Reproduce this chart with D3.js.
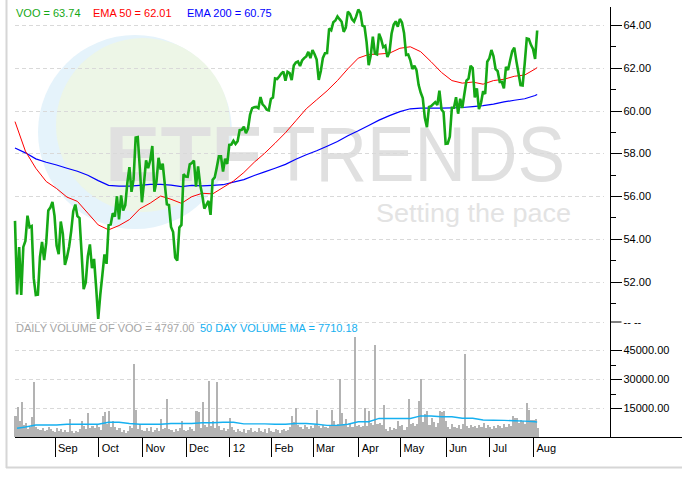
<!DOCTYPE html>
<html><head><meta charset="utf-8">
<script src="https://cdn.jsdelivr.net/npm/d3@7"></script>
<style>
html,body{margin:0;padding:0;background:#fff;}
svg{display:block;font-family:"Liberation Sans",Arial,sans-serif;}
</style></head><body>
<svg id="c" width="682" height="481"></svg>
<script>
// ---- data (trading-day index 0 = 5 Aug 2011 ... 251 = 3 Aug 2012) ----
const monthLabels = ["Sep","Oct","Nov","Dec","12","Feb","Mar","Apr","May","Jun","Jul","Aug"];
const monthStartIndex = [19,40,61,82,103,123,143,165,185,207,228,249];

const closePrices = [54.84,51.40,53.61,51.38,53.62,53.90,55.08,54.54,54.59,52.16,
51.37,51.39,53.15,53.85,53.01,53.81,55.33,55.46,55.73,55.07,
53.68,53.28,54.81,54.23,52.78,53.14,53.63,54.35,55.29,55.60,
55.06,54.97,53.35,51.65,51.96,53.18,53.74,52.63,53.06,51.73,
50.26,51.39,52.31,53.27,52.83,54.64,54.67,55.20,55.04,55.99,
54.91,56.03,55.32,55.57,56.62,57.35,56.20,56.79,58.74,58.76,
57.31,55.71,56.60,57.67,57.30,57.67,58.34,56.20,56.68,57.79,
57.24,57.51,56.56,55.61,55.58,54.55,54.32,53.12,52.98,54.53,
54.65,57.02,56.91,56.90,57.48,57.54,57.66,56.44,57.39,56.54,
56.05,55.41,55.59,55.77,55.12,56.76,56.87,57.34,57.86,57.86,
57.14,57.75,57.50,58.39,58.41,58.58,58.43,58.56,59.08,59.10,
59.24,58.94,59.15,59.81,60.11,60.15,60.17,60.11,60.63,60.29,
60.19,60.04,60.01,60.54,60.61,61.50,61.47,61.59,61.73,61.82,
61.39,61.81,61.75,61.42,62.10,62.24,62.29,62.08,62.34,62.45,
62.53,62.74,62.45,62.83,62.63,62.38,61.43,61.85,62.46,62.68,
62.69,63.83,63.75,64.13,64.21,64.40,64.27,64.15,63.68,63.88,
64.62,64.52,64.27,64.16,64.40,64.72,64.58,63.97,63.93,63.20,
62.12,62.58,63.45,62.66,62.62,63.59,63.34,62.96,63.03,62.50,
62.73,63.59,64.01,64.17,63.92,64.28,64.12,63.63,62.60,62.62,
62.36,61.94,62.09,61.88,61.20,60.84,60.58,59.66,59.22,60.17,
60.20,60.30,60.39,60.26,60.93,60.05,59.92,58.44,58.45,58.78,
60.13,60.13,60.62,59.85,60.55,60.12,60.77,61.40,61.49,62.09,
61.99,60.61,61.04,60.07,60.36,60.90,60.77,62.28,62.44,62.83,
62.53,61.94,61.84,61.34,61.34,61.03,62.04,61.89,62.35,62.77,
62.94,62.31,61.75,61.19,61.17,62.19,63.37,63.34,63.07,62.88,
62.41,63.74];

const emaIndex = [0,5,10,15,20,25,30,35,40,45,50,55,60,65,70,75,80,85,90,95,100,105,110,115,120,125,130,135,140,145,150,155,160,165,170,175,180,185,190,195,200,205,210,215,220,225,230,235,240,245,250,251];
const ema50 = [59.48,58.10,57.30,56.68,56.35,55.95,55.75,55.20,54.65,54.42,54.62,54.90,55.40,55.67,56.00,55.85,55.66,55.97,56.13,56.10,56.40,56.70,57.10,57.58,58.00,58.47,58.96,59.52,60.08,60.50,60.92,61.40,61.95,62.45,62.62,62.64,62.68,62.91,62.98,62.75,62.28,61.78,61.40,61.28,61.33,61.23,61.40,61.46,61.60,61.66,61.94,62.01];
const ema200 = [58.25,58.02,57.74,57.58,57.45,57.30,57.16,56.97,56.72,56.50,56.46,56.46,56.50,56.55,56.55,56.51,56.44,56.50,56.48,56.50,56.53,56.65,56.77,56.96,57.13,57.30,57.48,57.72,57.93,58.12,58.33,58.55,58.82,59.05,59.30,59.55,59.76,59.95,60.08,60.11,60.11,60.11,60.12,60.14,60.18,60.23,60.30,60.40,60.48,60.55,60.70,60.75];

const volumes = [10900,15400,8400,18300,6200,7300,4300,5200,10500,28300,
5200,4300,3800,4600,2900,3500,5100,4200,3000,2600,
4700,3300,4000,2800,3600,2400,9300,3100,2200,3000,
2600,4300,8400,5600,3900,12200,4500,5900,4700,6100,
5200,3800,11000,12800,6600,13300,5400,8400,5000,3400,
4600,2500,3800,2200,3100,5600,4800,37800,14000,4200,
6100,3500,2900,4400,3200,5100,2700,3600,4800,3000,
9300,3900,4600,19600,4300,3400,2700,4100,3200,4800,
8400,3700,2900,3500,5000,4200,3100,13300,12800,4700,
18300,6400,5200,29100,5800,8400,4600,28600,5500,3600,
4900,3200,4300,9800,5400,3800,2400,4300,3100,2700,
4000,2200,3500,4600,2800,3300,2500,4400,3100,2600,
3900,2200,4500,3000,2700,4100,3400,2300,3700,4300,
2900,3800,5200,11000,7900,14800,6000,5400,4300,6200,
5100,4000,5600,4700,6400,13800,5800,4900,6100,5300,
4400,6000,14200,8400,5500,6800,30000,12500,6300,9300,
5400,6600,5200,51600,5800,6300,5100,5900,14800,5600,
13300,7000,6100,47600,6800,7200,6400,16500,4200,3300,
5000,3700,4600,3900,8400,5700,6200,3800,5100,19500,
6800,7400,5900,6600,18800,30000,8000,11800,13300,6400,
9800,8000,5000,7100,13300,12900,13300,8300,5200,4100,
6500,5400,4700,6000,4300,6700,42900,5500,4800,6300,
5000,5800,4400,6100,5300,7200,4600,6000,5100,4200,
5600,4900,6200,5700,4500,6600,5300,6800,5900,10900,
9700,10000,7400,9000,8200,6900,17800,13800,9000,8600,
9400,4797];

const volMAIndex = [1,5,10,15,20,25,30,35,40,45,50,55,60,65,70,75,80,85,90,95,100,105,110,115,120,125,130,135,140,145,150,155,160,165,170,175,180,185,190,195,200,205,210,215,220,225,230,235,240,245,250,251];
const volMA = [4500,5200,6200,6200,6200,6600,6600,6600,6600,7600,7600,7000,6600,6600,6600,7000,7000,7000,7400,7400,7600,7600,6800,6800,6800,6600,6600,7000,7000,6600,6000,6000,6600,7900,7900,9600,9600,9600,9600,10900,10900,10500,10500,9700,9700,8800,8700,8600,8400,8200,7900,7710.18];

const priceTicks = [64,62,60,58,56,54,52];
const priceMinorTicks = [63,61,59,57,55,53,51];
const volumeTicks = [45000,30000,15000];
const volumeMinorTicks = [37500,22500];

// ---- drawing ----
const svg = d3.select("#c");
const x = d3.scaleLinear().domain([0,286]).range([15,610]);
const yP = d3.scaleLinear().domain([50.11,64.84]).range([322,7]);
const yV = d3.scaleLinear().domain([0,60000]).range([437,321]);
const plotL = 15, plotR = 610, gridR = 604;

const GREEN="#15a815", RED="#ff0000", BLUE="#0000ff", VOLC="#b3b3b3", MAC="#16b0f0";

// frame
svg.append("line").attr("x1",6.5).attr("x2",6.5).attr("y1",0).attr("y2",468).attr("stroke","#d6d6d6").attr("stroke-width",2);
svg.append("line").attr("x1",6).attr("x2",682).attr("y1",467.5).attr("y2",467.5).attr("stroke","#d6d6d6").attr("stroke-width",2);

// watermark
const wm = svg.append("g");
wm.append("circle").attr("cx",135).attr("cy",132).attr("r",97).attr("fill","#e5f3fb");
wm.append("circle").attr("cx",143).attr("cy",125).attr("r",87).attr("fill","#edf6e7");
wm.append("text").attr("x",105).attr("y",181).attr("font-size",78).attr("font-weight","bold")
  .attr("fill","#e0e0e0").attr("textLength",157).attr("lengthAdjust","spacingAndGlyphs").text("ETF");
wm.append("text").attr("x",272).attr("y",181).attr("font-size",78)
  .attr("fill","#e0e0e0").attr("textLength",293).attr("lengthAdjust","spacingAndGlyphs").text("TRENDS");
wm.append("text").attr("x",376).attr("y",222).attr("font-size",26)
  .attr("fill","#e3e3e3").attr("textLength",195).attr("lengthAdjust","spacingAndGlyphs").text("Setting the pace");

// gridlines
const grid = svg.append("g").attr("stroke","#d9d9d9").attr("stroke-dasharray","4,3").attr("shape-rendering","crispEdges");
priceTicks.forEach(t=>grid.append("line").attr("x1",plotL).attr("x2",gridR).attr("y1",Math.round(yP(t))+0.5).attr("y2",Math.round(yP(t))+0.5));
grid.append("line").attr("x1",plotL).attr("x2",gridR).attr("y1",322.5).attr("y2",322.5);
volumeTicks.forEach(t=>grid.append("line").attr("x1",plotL).attr("x2",gridR).attr("y1",Math.round(yV(t))+0.5).attr("y2",Math.round(yV(t))+0.5));

// volume bars
const step = x(1)-x(0);
svg.append("g").attr("shape-rendering","crispEdges").selectAll("rect").data(volumes).join("rect")
  .attr("x",(d,i)=>x(i)-step/2+0.5).attr("width",step)
  .attr("y",d=>yV(d)).attr("height",d=>yV(0)-yV(d)).attr("fill",VOLC);

// volume MA
svg.append("path").datum(volMA).attr("fill","none").attr("stroke",MAC).attr("stroke-width",1.4)
  .attr("d",d3.line().x((d,i)=>x(volMAIndex[i])).y(d=>yV(d)));

// EMA lines
svg.append("path").datum(ema200).attr("fill","none").attr("stroke",BLUE).attr("stroke-width",1.2)
  .attr("d",d3.line().x((d,i)=>x(emaIndex[i])).y(d=>yP(d)));
svg.append("path").datum(ema50).attr("fill","none").attr("stroke",RED).attr("stroke-width",1)
  .attr("d",d3.line().x((d,i)=>x(emaIndex[i])).y(d=>yP(d)));

// price line
svg.append("path").datum(closePrices).attr("fill","none").attr("stroke",GREEN).attr("stroke-width",2.6)
  .attr("stroke-linejoin","miter").attr("stroke-miterlimit",2)
  .attr("d",d3.line().x((d,i)=>x(i)).y(d=>yP(d)));

// right axis (price)
const axR = svg.append("g").attr("transform","translate(610.5,0)");
axR.append("line").attr("x1",0).attr("x2",0).attr("y1",7).attr("y2",437).attr("stroke","#000");
const priceAxis = d3.axisRight(yP).tickValues(priceTicks).tickSize(11).tickPadding(2).tickFormat(d3.format(".2f"));
const gpa = axR.append("g").call(priceAxis);
gpa.select(".domain").remove();
const gpm = axR.append("g").call(d3.axisRight(yP).tickValues(priceMinorTicks).tickSize(5).tickFormat(""));
gpm.select(".domain").remove();
const volAxis = d3.axisRight(yV).tickValues(volumeTicks).tickSize(11).tickPadding(2).tickFormat(d3.format(".2f"));
const gva = axR.append("g").call(volAxis);
gva.select(".domain").remove();
const gvm = axR.append("g").call(d3.axisRight(yV).tickValues(volumeMinorTicks).tickSize(5).tickFormat(""));
gvm.select(".domain").remove();
// panel boundary tick
axR.append("line").attr("x1",0).attr("x2",11).attr("y1",322).attr("y2",322).attr("stroke","#000");
axR.append("text").attr("x",13).attr("y",322).attr("dy","0.32em").attr("font-size",11).attr("fill","#000").text("-- --");
axR.selectAll("text").attr("font-size",11).attr("font-family","'Liberation Sans',Arial,sans-serif").attr("fill","#000");
axR.selectAll(".tick line").attr("shape-rendering","crispEdges");

// bottom axis
svg.append("line").attr("x1",15).attr("x2",682).attr("y1",437.5).attr("y2",437.5).attr("stroke","#000");
const xAxis = d3.axisBottom(x).tickValues(monthStartIndex).tickSize(20).tickFormat((d,i)=>monthLabels[i]);
const gx = svg.append("g").attr("transform","translate(0,437)").call(xAxis);
gx.select(".domain").remove();
gx.selectAll(".tick line").attr("shape-rendering","crispEdges");
gx.selectAll(".tick text").attr("text-anchor","start").attr("x",3).attr("y",7).attr("dy","0.71em")
  .attr("font-size",11).attr("font-family","'Liberation Sans',Arial,sans-serif").attr("fill","#000");

// legends
const leg = svg.append("g").attr("font-size",11);
leg.append("text").attr("x",16).attr("y",17).attr("fill",GREEN).text("VOO = "+closePrices[closePrices.length-1].toFixed(2));
leg.append("text").attr("x",93).attr("y",17).attr("fill",RED).text("EMA 50 = "+ema50[ema50.length-1].toFixed(2));
leg.append("text").attr("x",187).attr("y",17).attr("fill",BLUE).text("EMA 200 = "+ema200[ema200.length-1].toFixed(2));
leg.append("text").attr("x",16).attr("y",332).attr("fill","#a6a6a6").text("DAILY VOLUME OF VOO = "+volumes[volumes.length-1].toFixed(2));
leg.append("text").attr("x",200).attr("y",332).attr("fill",MAC).text("50 DAY VOLUME MA = "+volMA[volMA.length-1].toFixed(2));
</script>
</body></html>
